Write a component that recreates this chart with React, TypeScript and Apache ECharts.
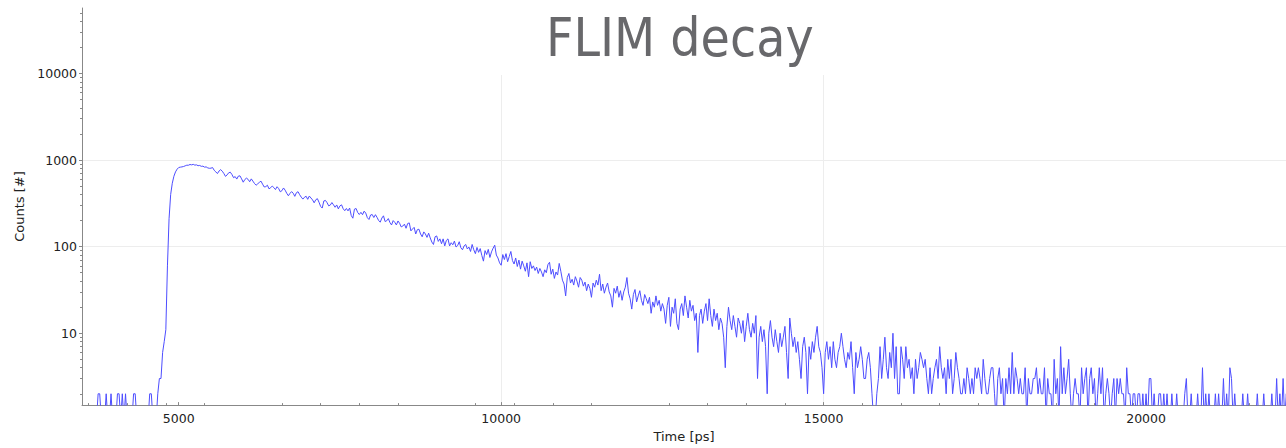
import React, { useEffect, useRef } from "react";
import * as echarts from "echarts";

const TITLE = "FLIM decay";
const X_NAME = "Time [ps]";
const Y_NAME = "Counts [#]";

// histogram bins: start time and width (ps)
const BIN_START_PS = 3500;
const BIN_WIDTH_PS = 25;

const X_LABELS = [5000, 10000, 15000, 20000];
const Y_LABELS = [10, 100, 1000, 10000];
const Y_MINOR = [
  2, 3, 4, 5, 6, 7, 8, 9,
  20, 30, 40, 50, 60, 70, 80, 90,
  200, 300, 400, 500, 600, 700, 800, 900,
  2000, 3000, 4000, 5000, 6000, 7000, 8000, 9000,
  20000, 30000, 40000, 50000,
];

// counts per bin, one row per 1000 ps
const COUNTS_3500 = [1,1,1,1,1,1,1,1,1,1, 2,2,1,1,1,2,1,1,2,1, 1,1,2,2,1,2,1,2,1,1, 1,1,2,2,1,1,1,1,1,1];
const COUNTS_4500 = [1,1,2,2,1,1,1,2,3,3, 6,8,11,60,210,400,540,650,730,785, 820,828,834,842,858,872,871,889,880,892, 874,880,861,866,846,850,828,834,812,803];
const COUNTS_5500 = [806,819,762,730,698,747,775,744,699,648, 674,713,724,681,626,644,603,653,657,606, 555,596,618,599,562,606,571,536,512,532, 552,571,527,489,493,512,465,479,501,481];
const COUNTS_6500 = [456,492,468,430,443,476,449,413,387,412, 432,414,381,420,431,398,373,354,372,382, 352,384,365,347,321,348,358,326,292,279, 337,342,322,296,302,323,304,285,303,273];
const COUNTS_7500 = [296,304,274,260,276,259,279,229,213,271, 276,248,235,249,234,257,244,216,206,232, 235,217,234,218,200,192,214,227,195,199, 211,190,178,200,191,178,198,186,169,173];
const COUNTS_8500 = [182,163,185,188,152,160,167,140,157,159, 140,130,148,140,128,143,126,113,106,130, 133,115,123,108,123,102,118,123,102,111, 105,116,99,103,114,97,92,102,106,94];
const COUNTS_9500 = [99,88,106,92,83,98,86,95,79,68, 90,81,93,75,87,96,104,80,74,65, 61,81,71,83,67,77,88,69,63,74, 59,70,55,68,60,52,65,45,67,56];
const COUNTS_10500 = [60,53,58,49,56,51,45,54,50,62, 66,48,55,43,51,47,64,52,41,37, 27,44,49,38,42,36,45,40,34,44, 41,35,39,31,37,33,26,38,34,41];
const COUNTS_11500 = [36,48,31,37,29,34,38,30,27,20, 33,29,35,26,31,24,30,34,44,29, 25,19,28,32,23,27,31,24,21,28, 25,22,26,17,23,20,27,21,24,18];
const COUNTS_12500 = [22,19,13,21,26,12,20,17,25,13, 11,19,22,16,27,20,15,24,18,21, 14,17,6,16,19,13,18,22,14,25, 16,12,19,14,17,11,15,13,9,4];
const COUNTS_13500 = [12,20,14,11,16,12,9,15,13,10, 14,8,12,17,11,9,13,10,16,3, 9,12,8,11,7,2,10,14,9,7, 11,8,6,10,7,9,12,6,3,15];
const COUNTS_14500 = [10,7,9,6,8,5,3,7,9,6, 2,7,5,8,6,9,12,7,6,4, 2,6,8,5,7,4,8,5,4,6, 7,10,7,5,4,6,5,8,4,2];
const COUNTS_15500 = [6,4,5,7,5,3,3,5,6,4, 2,1,1,2,3,7,3,5,9,4, 3,6,4,10,3,7,2,2,7,5, 3,7,4,5,3,4,2,5,3,4];
const COUNTS_16500 = [6,5,4,5,3,2,4,2,3,4, 5,3,7,4,3,4,2,5,3,5, 2,3,6,4,3,2,2,3,2,4, 3,2,3,2,4,3,4,3,2,5];
const COUNTS_17500 = [3,2,2,3,4,4,2,1,3,4, 2,3,1,3,2,4,2,6,2,4, 3,2,3,2,2,4,1,3,2,2, 3,3,4,2,3,2,2,4,1,3];
const COUNTS_18500 = [2,2,1,5,2,3,1,7,2,4, 2,3,5,2,1,2,3,2,2,1, 4,2,3,4,1,3,4,2,3,1, 2,4,2,4,1,2,3,2,1,2];
const COUNTS_19500 = [3,1,3,2,3,2,2,1,4,2, 2,1,2,2,1,2,2,1,2,1, 2,1,3,3,1,2,1,1,2,2, 1,2,1,2,1,1,2,1,1,2];
const COUNTS_20500 = [1,1,1,1,2,3,1,1,2,1, 1,1,2,1,1,4,1,2,1,2, 1,1,1,2,1,2,1,1,3,1, 2,1,4,3,1,2,1,1,1,1];
const COUNTS_21500 = [2,1,1,2,1,1,1,1,1,2, 1,1,1,2,1,1,1,1,2,1, 1,3,1,2,1,3,1,2,1];

const COUNTS = [
  ...COUNTS_3500, ...COUNTS_4500, ...COUNTS_5500, ...COUNTS_6500, ...COUNTS_7500,
  ...COUNTS_8500, ...COUNTS_9500, ...COUNTS_10500, ...COUNTS_11500, ...COUNTS_12500,
  ...COUNTS_13500, ...COUNTS_14500, ...COUNTS_15500, ...COUNTS_16500, ...COUNTS_17500,
  ...COUNTS_18500, ...COUNTS_19500, ...COUNTS_20500, ...COUNTS_21500,
];

const LABEL_FONT = "DejaVu Sans";

export default function App() {
  const ref = useRef<HTMLDivElement>(null);
  useEffect(() => {
    if (!ref.current) return;
    const chart = echarts.init(ref.current, null, { renderer: "svg" });
    const data = COUNTS.map((c, i) => [BIN_START_PS + i * BIN_WIDTH_PS, c]);
    const yMin = 1.48;
    const yMax = 57000;
    chart.setOption({
      animation: false,
      backgroundColor: "#ffffff",
      title: {
        text: TITLE,
        left: 393,
        top: 0,
        padding: [11, 153, 11, 153],
        backgroundColor: "#ffffff",
        textStyle: {
          fontFamily: "'DejaVu Sans Condensed', Roboto",
          fontSize: 53,
          fontWeight: "normal",
          color: "#68686b",
        },
      },
      grid: { left: 82, right: 0, top: 8, bottom: 42 },
      xAxis: {
        type: "value",
        min: 3500,
        max: 22170,
        name: X_NAME,
        nameLocation: "middle",
        nameGap: 24,
        nameTextStyle: { fontFamily: LABEL_FONT, fontSize: 13, color: "#222" },
        axisLine: { lineStyle: { color: "#888", width: 1 } },
        axisTick: { inside: true, length: 3, customValues: X_LABELS, lineStyle: { color: "#888" } },
        minorTick: { show: true, splitNumber: 5, length: 2, lineStyle: { color: "#888" } },
        axisLabel: {
          customValues: X_LABELS,
          formatter: (v: number) => String(Math.round(v)),
          color: "#222",
          fontSize: 12.5,
          fontFamily: LABEL_FONT,
          margin: 7,
        },
        splitLine: {
          show: true,
          showMinLine: false,
          showMaxLine: false,
          lineStyle: { color: "#ededed", width: 1 },
        },
      },
      yAxis: [
        {
          type: "log",
          logBase: 10,
          min: yMin,
          max: yMax,
          name: Y_NAME,
          nameLocation: "middle",
          nameGap: 55,
          nameRotate: 90,
          nameTextStyle: { fontFamily: LABEL_FONT, fontSize: 13, color: "#222" },
          axisLine: { show: true, lineStyle: { color: "#888", width: 1 } },
          axisTick: { show: true, length: 3, customValues: Y_LABELS, lineStyle: { color: "#888" } },
          axisLabel: {
            customValues: Y_LABELS,
            formatter: (v: number) => String(Math.round(v)),
            color: "#222",
            fontSize: 12.5,
            fontFamily: LABEL_FONT,
            margin: 5,
          },
          splitLine: {
            show: true,
            showMinLine: false,
            showMaxLine: false,
            lineStyle: { color: "#ededed", width: 1 },
          },
        },
        {
          type: "log",
          logBase: 10,
          min: yMin,
          max: yMax,
          position: "left",
          axisLine: { show: false },
          axisLabel: { show: false },
          splitLine: { show: false },
          axisTick: { show: true, length: 2, customValues: Y_MINOR, lineStyle: { color: "#888" } },
        },
      ],
      series: [
        {
          type: "line",
          data,
          xAxisIndex: 0,
          yAxisIndex: 0,
          showSymbol: false,
          symbol: "none",
          clip: true,
          lineStyle: { color: "#4d4dff", width: 1 },
        },
      ],
    });
    return () => chart.dispose();
  }, []);
  return (
    <div
      ref={ref}
      style={{ position: "fixed", left: 0, top: 0, width: 1286, height: 448 }}
    />
  );
}
